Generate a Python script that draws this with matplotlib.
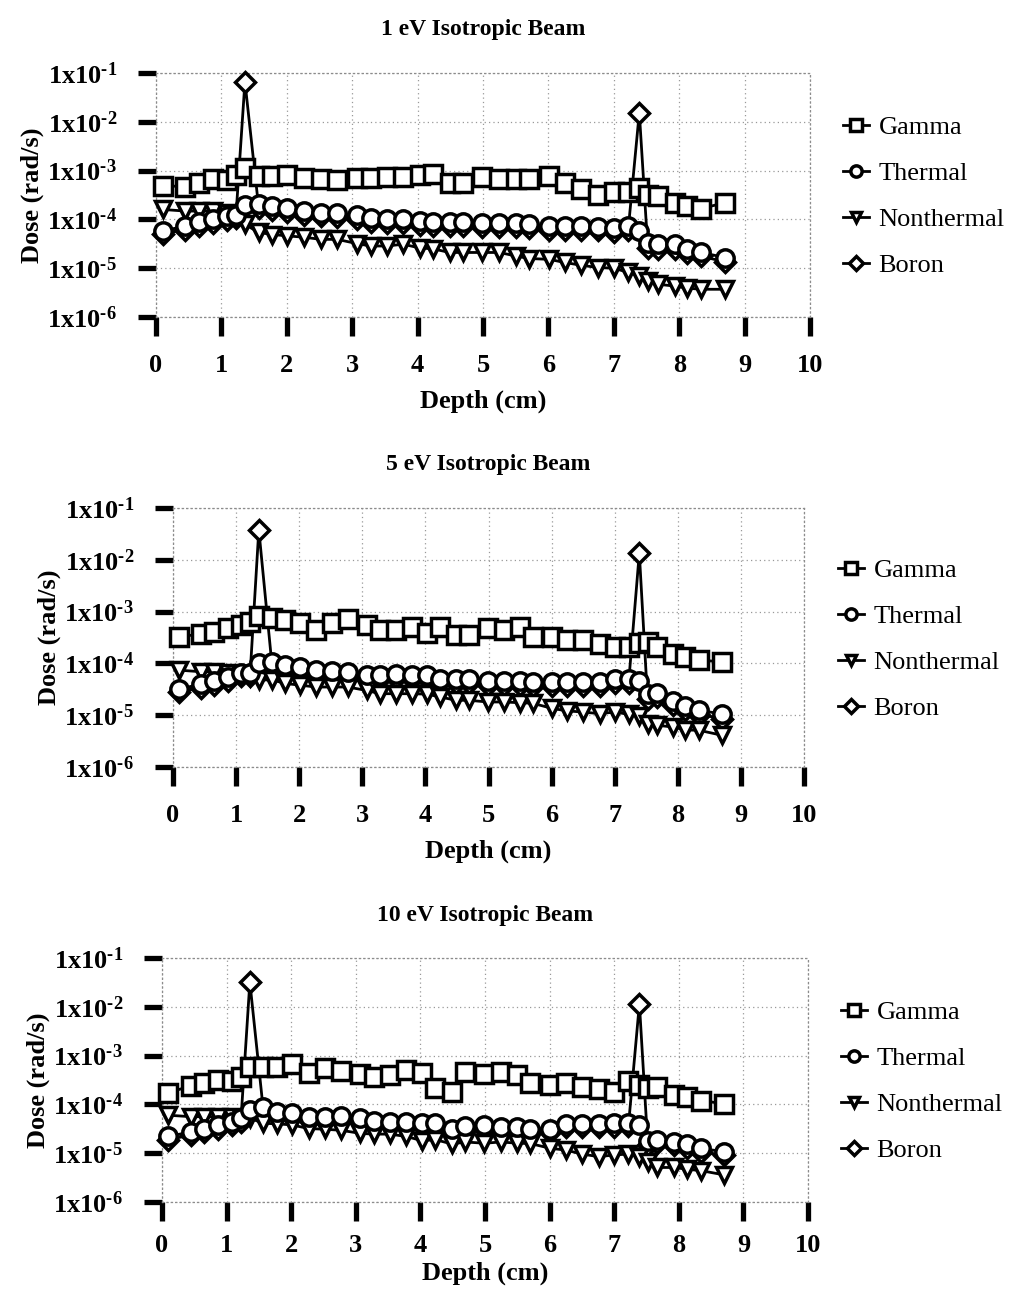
import matplotlib
matplotlib.use("Agg")
import matplotlib.pyplot as plt
from matplotlib.ticker import FixedLocator, FixedFormatter, NullLocator

# ---------------- data ----------------
depth = [0.10, 0.45, 0.65, 0.87, 1.08, 1.22, 1.36, 1.57, 1.78, 2.01, 2.27, 2.52, 2.77,
         3.07, 3.28, 3.53, 3.78, 4.03, 4.23, 4.49, 4.69, 4.99, 5.25, 5.50, 5.70, 6.01,
         6.25, 6.50, 6.76, 7.00, 7.22, 7.39, 7.52, 7.67, 7.93, 8.12, 8.34, 8.70]

titles = ["1 eV Isotropic Beam", "5 eV Isotropic Beam", "10 eV Isotropic Beam"]
series_names = ["Gamma", "Thermal", "Nonthermal", "Boron"]

gamma_1 = [4.9e-4, 4.7e-4, 5.7e-4, 6.6e-4, 6.3e-4, 8.3e-4, 1.15e-3, 7.9e-4, 7.9e-4, 8.3e-4,
           7.2e-4, 6.6e-4, 6.3e-4, 6.9e-4, 7.2e-4, 7.5e-4, 7.5e-4, 8.3e-4, 8.7e-4, 5.7e-4,
           5.7e-4, 7.5e-4, 6.6e-4, 6.6e-4, 6.6e-4, 7.9e-4, 5.7e-4, 4.1e-4, 3.2e-4, 3.7e-4,
           3.6e-4, 4.5e-4, 3.1e-4, 3.0e-4, 2.2e-4, 1.85e-4, 1.67e-4, 2.2e-4]
thermal_1 = [5.8e-5, 7.3e-5, 8.8e-5, 1.0e-4, 1.17e-4, 1.26e-4, 2.0e-4, 2.1e-4, 1.87e-4, 1.73e-4,
             1.48e-4, 1.38e-4, 1.33e-4, 1.21e-4, 1.08e-4, 1.03e-4, 1.0e-4, 9.3e-5, 8.8e-5, 8.8e-5,
             8.8e-5, 8.5e-5, 8.5e-5, 8.5e-5, 7.9e-5, 7.3e-5, 7.3e-5, 7.3e-5, 7.1e-5, 6.7e-5,
             7.3e-5, 5.8e-5, 3.35e-5, 3.1e-5, 3.1e-5, 2.5e-5, 2.1e-5, 1.65e-5]
nonthermal_1 = [1.6e-4, 1.48e-4, 1.48e-4, 1.48e-4, 1.38e-4, 1.08e-4, 7.9e-5, 5.4e-5, 4.9e-5, 4.6e-5,
                4.3e-5, 3.9e-5, 3.9e-5, 3.2e-5, 2.85e-5, 2.85e-5, 3.1e-5, 2.6e-5, 2.5e-5, 2.1e-5,
                2.1e-5, 2.1e-5, 2.1e-5, 1.78e-5, 1.58e-5, 1.52e-5, 1.31e-5, 1.15e-5, 1.03e-5, 1.0e-5,
                8.2e-6, 6.9e-6, 5.5e-6, 4.7e-6, 4.3e-6, 3.9e-6, 3.7e-6, 3.7e-6]
boron_1 = [5.0e-5, 6.2e-5, 7.4e-5, 8.4e-5, 9.8e-5, 1.05e-4, 6.6e-2, 1.75e-4, 1.55e-4, 1.45e-4,
           1.25e-4, 1.15e-4, 1.1e-4, 1.0e-4, 9.0e-5, 8.6e-5, 8.4e-5, 7.8e-5, 7.4e-5, 7.4e-5,
           7.4e-5, 7.1e-5, 7.1e-5, 7.1e-5, 6.6e-5, 6.1e-5, 6.1e-5, 6.1e-5, 6.0e-5, 5.6e-5,
           6.1e-5, 1.55e-2, 2.6e-5, 2.5e-5, 2.5e-5, 2.05e-5, 1.75e-5, 1.35e-5]

gamma_5 = [3.27e-4, 3.7e-4, 4.1e-4, 4.8e-4, 5.5e-4, 6.4e-4, 8.3e-4, 7.4e-4, 6.9e-4, 5.9e-4,
           4.5e-4, 5.9e-4, 7.1e-4, 5.5e-4, 4.5e-4, 4.5e-4, 5.1e-4, 3.8e-4, 5.0e-4, 3.55e-4,
           3.55e-4, 4.8e-4, 4.4e-4, 5.1e-4, 3.27e-4, 3.27e-4, 2.8e-4, 2.8e-4, 2.37e-4, 2.1e-4,
           2.1e-4, 2.45e-4, 2.6e-4, 2.1e-4, 1.55e-4, 1.32e-4, 1.16e-4, 1.07e-4]
thermal_5 = [3.2e-5, 4.0e-5, 4.6e-5, 5.5e-5, 6.6e-5, 6.6e-5, 1.0e-4, 1.07e-4, 9.3e-5, 8.6e-5,
             7.6e-5, 7.2e-5, 6.9e-5, 5.9e-5, 5.9e-5, 6.2e-5, 5.9e-5, 5.9e-5, 5.1e-5, 4.9e-5,
             4.9e-5, 4.6e-5, 4.6e-5, 4.6e-5, 4.4e-5, 4.4e-5, 4.4e-5, 4.4e-5, 4.4e-5, 4.9e-5,
             4.9e-5, 4.6e-5, 2.6e-5, 2.7e-5, 1.9e-5, 1.5e-5, 1.25e-5, 1.05e-5]
nonthermal_5 = [7.4e-5, 6.9e-5, 6.9e-5, 6.5e-5, 5.9e-5, 5.5e-5, 4.8e-5, 4.8e-5, 4.1e-5, 3.8e-5,
                3.5e-5, 3.5e-5, 3.5e-5, 3.0e-5, 2.6e-5, 2.6e-5, 2.6e-5, 2.55e-5, 2.25e-5, 1.94e-5,
                1.94e-5, 1.8e-5, 1.8e-5, 1.74e-5, 1.7e-5, 1.35e-5, 1.21e-5, 1.15e-5, 1.07e-5, 1.15e-5,
                1.04e-5, 9.5e-6, 6.9e-6, 6.4e-6, 5.9e-6, 5.2e-6, 5.1e-6, 4.1e-6]
boron_5 = [2.8e-5, 3.4e-5, 3.9e-5, 4.6e-5, 5.6e-5, 5.6e-5, 3.8e-2, 8.9e-5, 7.8e-5, 7.2e-5,
           6.4e-5, 6.1e-5, 5.8e-5, 5.0e-5, 5.0e-5, 5.2e-5, 5.0e-5, 5.0e-5, 4.3e-5, 4.1e-5,
           4.1e-5, 3.9e-5, 3.9e-5, 3.9e-5, 3.7e-5, 3.7e-5, 3.7e-5, 3.7e-5, 3.7e-5, 4.1e-5,
           4.1e-5, 1.35e-2, 2.1e-5, 2.2e-5, 1.55e-5, 1.25e-5, 1.03e-5, 8.6e-6]

gamma_10 = [1.74e-4, 2.4e-4, 2.7e-4, 3.2e-4, 2.95e-4, 3.7e-4, 5.9e-4, 5.9e-4, 5.9e-4, 6.7e-4,
            4.4e-4, 5.5e-4, 4.9e-4, 4.2e-4, 3.7e-4, 4.0e-4, 5.1e-4, 4.4e-4, 2.14e-4, 1.82e-4,
            4.7e-4, 4.2e-4, 4.7e-4, 4.0e-4, 2.8e-4, 2.5e-4, 2.8e-4, 2.3e-4, 2.04e-4, 1.82e-4,
            2.95e-4, 2.5e-4, 2.14e-4, 2.3e-4, 1.55e-4, 1.45e-4, 1.2e-4, 1.03e-4]
thermal_10 = [2.2e-5, 2.75e-5, 3.2e-5, 3.8e-5, 4.4e-5, 5.2e-5, 7.7e-5, 8.7e-5, 7.1e-5, 6.6e-5,
              5.6e-5, 5.4e-5, 5.8e-5, 5.2e-5, 4.6e-5, 4.4e-5, 4.4e-5, 4.2e-5, 4.2e-5, 3.1e-5,
              3.6e-5, 3.8e-5, 3.45e-5, 3.4e-5, 3.2e-5, 3.2e-5, 4.0e-5, 4.0e-5, 4.0e-5, 4.1e-5,
              4.2e-5, 3.8e-5, 1.8e-5, 1.9e-5, 1.7e-5, 1.54e-5, 1.26e-5, 1.07e-5]
nonthermal_10 = [6.0e-5, 5.6e-5, 5.6e-5, 5.6e-5, 5.6e-5, 5.2e-5, 5.2e-5, 4.1e-5, 4.0e-5, 3.8e-5,
                 3.2e-5, 3.1e-5, 2.95e-5, 2.55e-5, 2.46e-5, 2.46e-5, 2.2e-5, 1.8e-5, 1.9e-5, 1.54e-5,
                 1.7e-5, 1.6e-5, 1.7e-5, 1.6e-5, 1.58e-5, 1.26e-5, 1.16e-5, 9.6e-6, 8.5e-6, 9.2e-6,
                 9.6e-6, 8.5e-6, 6.6e-6, 5.1e-6, 5.1e-6, 4.7e-6, 4.4e-6, 3.6e-6]
boron_10 = [1.9e-5, 2.35e-5, 2.7e-5, 3.2e-5, 3.7e-5, 4.4e-5, 3.2e-2, 7.3e-5, 6.0e-5, 5.6e-5,
            4.7e-5, 4.6e-5, 4.9e-5, 4.4e-5, 3.9e-5, 3.7e-5, 3.7e-5, 3.6e-5, 3.6e-5, 2.6e-5,
            3.0e-5, 3.2e-5, 2.9e-5, 2.9e-5, 2.7e-5, 2.7e-5, 3.4e-5, 3.4e-5, 3.4e-5, 3.5e-5,
            3.6e-5, 1.15e-2, 1.5e-5, 1.6e-5, 1.45e-5, 1.3e-5, 1.05e-5, 9.0e-6]

x_ticks = [0, 1, 2, 3, 4, 5, 6, 7, 8, 9, 10]
x_tick_labels = ["0", "1", "2", "3", "4", "5", "6", "7", "8", "9", "10"]
y_ticks = [1e-6, 1e-5, 1e-4, 1e-3, 1e-2, 1e-1]
y_tick_labels = ["1x10$^{\u2010\\mathbf{6}}$", "1x10$^{\u2010\\mathbf{5}}$",
                 "1x10$^{\u2010\\mathbf{4}}$", "1x10$^{\u2010\\mathbf{3}}$",
                 "1x10$^{\u2010\\mathbf{2}}$", "1x10$^{\u2010\\mathbf{1}}$"]
x_label = "Depth (cm)"
y_label = "Dose (rad/s)"

panels = [
    (gamma_1, thermal_1, nonthermal_1, boron_1),
    (gamma_5, thermal_5, nonthermal_5, boron_5),
    (gamma_10, thermal_10, nonthermal_10, boron_10),
]

# ---------------- style ----------------
plt.rcParams['font.family'] = ['Liberation Serif', 'DejaVu Serif']
plt.rcParams['mathtext.fontset'] = 'custom'
plt.rcParams['mathtext.rm'] = 'Liberation Serif:bold'
plt.rcParams['mathtext.bf'] = 'Liberation Serif:bold'
plt.rcParams['mathtext.it'] = 'Liberation Serif:bold'
plt.rcParams['mathtext.fallback'] = 'stix'

W, H = 1015, 1295
fig = plt.figure(figsize=(W / 100, H / 100), dpi=100)

# axes boxes in pixels: left, right, top, bottom
boxes = [(156, 810, 73, 317), (173, 804, 508, 767), (162, 808, 958, 1202)]
legend_anchor = [(843, 116), (838, 559), (841, 1001)]
xtick_pads = [13, 13, 9]
xlabel_pads = [9, 9, 3]

markers = ['s', 'o', 'v', 'D']
msizes = [12.5, 12.5, 12, 10.5]
zorders = [4, 5, 4, 3]

for (g, t, n, b), title, (l, r, tp, bt), (lx, ly), xtp, xlp in zip(
        panels, titles, boxes, legend_anchor, xtick_pads, xlabel_pads):
    ax = fig.add_axes([l / W, (H - bt) / H, (r - l) / W, (bt - tp) / H])
    handles = []
    for vals, mk, ms, zo, name in zip((g, t, n, b), markers, msizes, zorders, series_names):
        h, = ax.plot(depth, vals, marker=mk, markersize=ms, markerfacecolor='white',
                     markeredgecolor='black', markeredgewidth=2.5, color='black',
                     linewidth=2.0, zorder=zo, label=name, clip_on=False)
        handles.append(h)
    ax.set_yscale('log')
    ax.set_xlim(0, 10)
    ax.set_ylim(1e-6, 1e-1)
    ax.xaxis.set_major_locator(FixedLocator(x_ticks))
    ax.xaxis.set_major_formatter(FixedFormatter(x_tick_labels))
    ax.yaxis.set_major_locator(FixedLocator(y_ticks))
    ax.yaxis.set_major_formatter(FixedFormatter(y_tick_labels))
    ax.yaxis.set_minor_locator(NullLocator())
    ax.xaxis.set_minor_locator(NullLocator())
    ax.tick_params(axis='y', which='major', direction='out', length=13, width=3.8,
                   pad=15, labelsize=19)
    ax.tick_params(axis='x', which='major', direction='out', length=14, width=3.8,
                   pad=xtp, labelsize=19)
    for lab in ax.get_xticklabels() + ax.get_yticklabels():
        lab.set_fontweight('bold')
    ax.grid(True, which='major', color='0.6', linestyle=(0, (1, 2.5)), linewidth=0.9)
    for sp in ax.spines.values():
        sp.set_linestyle((0, (1, 2.5)))
        sp.set_color('0.55')
        sp.set_linewidth(0.9)
    ax.set_title(title, fontsize=17, fontweight='bold', pad=27)
    ax.set_xlabel(x_label, fontsize=19, fontweight='bold', labelpad=xlp)
    ax.set_ylabel(y_label, fontsize=19, fontweight='bold', labelpad=2)
    ax.legend(handles=handles, loc='upper left',
              bbox_to_anchor=(lx / W, 1 - ly / H), bbox_transform=fig.transFigure,
              frameon=False, fontsize=19, handlelength=1.0, handletextpad=0.35,
              labelspacing=0.85, markerscale=0.65, borderpad=0, borderaxespad=0)

fig.savefig("out.png", dpi=100)
